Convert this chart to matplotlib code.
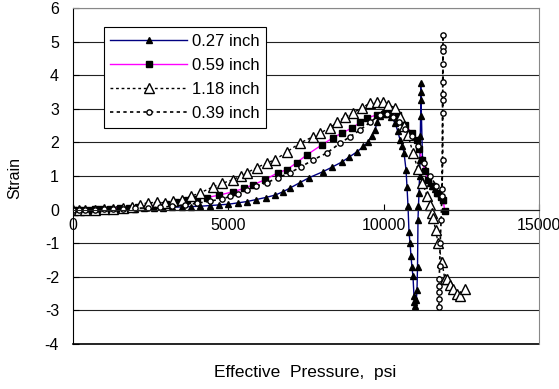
import matplotlib
matplotlib.use("Agg")
import matplotlib.pyplot as plt

plt.rcParams["font.family"] = ["Liberation Sans", "DejaVu Sans"]
plt.rcParams["axes.unicode_minus"] = False

# 0.27 inch - filled triangles, navy line
x027 = [0, 100, 200, 350, 500, 700, 900, 1100, 1400, 1700, 2000, 2300, 2600, 2900,
        3200, 3500, 3800, 4100, 4400, 4700, 5000, 5300, 5600, 5900, 6200, 6500, 6760,
        7000, 7300, 7600, 8050, 8350, 8660, 8900, 9140, 9350, 9500, 9620, 9720, 9790,
        9880, 9980, 10100, 10250, 10365, 10450, 10526, 10600, 10655, 10719, 10751,
        10784, 10816, 10850, 10880, 10910, 10944, 10977, 10990, 11010, 11050, 11073,
        11090, 11105, 11120, 11138, 11155, 11170, 11180, 11190, 11200, 11195, 11190,
        11250, 11320, 11400, 11480, 11560, 11650, 11750, 11850, 11900]
y027 = [0, 0, 0, 0, 0, 0, 0.01, 0.01, 0.02, 0.03, 0.03, 0.04, 0.05, 0.06,
        0.07, 0.08, 0.09, 0.1, 0.12, 0.14, 0.16, 0.2, 0.24, 0.3, 0.36, 0.43, 0.53,
        0.65, 0.8, 0.95, 1.13, 1.27, 1.42, 1.57, 1.72, 1.88, 2.02, 2.2, 2.37, 2.6,
        2.8, 2.9, 2.85, 2.75, 2.58, 2.35, 2.08, 1.9, 1.69, 1.19, 0.68,
        0.1, -0.68, -1.0, -1.39, -1.7, -1.99, -2.58, -2.75, -2.88, -2.7, -2.4,
        -1.7, -0.3, 0.1, 0.5, 1.0, 1.48, 2.2, 2.8, 3.26, 3.5, 3.77,
        1.5, 1.2, 0.95, 0.8, 0.7, 0.6, 0.5, 0.4, 0.3]

# 0.59 inch - filled squares, magenta line
x059 = [0, 150, 300, 500, 700, 900, 1200, 1500, 1800, 2100, 2400, 2700, 3000, 3300,
        3670, 4000, 4310, 4700, 5150, 5500, 5800, 6180, 6600, 6890, 7200, 7530, 8015,
        8370, 8660, 8980, 9250, 9460, 9790, 10000, 10200, 10460, 10690, 10910, 11070,
        11150, 11230, 11330, 11430, 11580, 11720, 11850, 11910, 11970]
y059 = [0, 0, 0, 0, 0.01, 0.02, 0.03, 0.04, 0.06, 0.08, 0.1, 0.13, 0.17, 0.22,
        0.3, 0.33, 0.36, 0.43, 0.53, 0.63, 0.74, 0.89, 1.1, 1.19, 1.4, 1.63, 1.93,
        2.14, 2.28, 2.43, 2.6, 2.73, 2.82, 2.86, 2.88, 2.82, 2.52, 2.28, 2.08,
        1.8, 1.48, 1.15, 0.89, 0.7, 0.5, 0.38, 0.3, -0.05]

# 1.18 inch - open triangles, dotted line
x118 = [0, 200, 400, 700, 1000, 1300, 1600, 1900, 2160, 2400, 2700, 2950, 3220, 3500,
        3800, 4100, 4510, 4800, 5150, 5400, 5600, 5920, 6240, 6500, 6890, 7300, 7730,
        7950, 8270, 8500, 8760, 9010, 9300, 9560, 9790, 9980, 10140, 10365, 10526,
        10650, 10780, 10945, 11100, 11250, 11400, 11480, 11560, 11590, 11670, 11750,
        11880, 11970, 12040, 12150, 12230, 12350, 12460, 12620]
y118 = [0, 0, 0, 0, 0.02, 0.03, 0.05, 0.08, 0.15, 0.2, 0.22, 0.2, 0.25, 0.3,
        0.4, 0.5, 0.68, 0.78, 0.89, 1.0, 1.1, 1.25, 1.39, 1.48, 1.72, 1.98, 2.17,
        2.28, 2.43, 2.6, 2.76, 2.88, 3.03, 3.17, 3.2, 3.2, 3.12, 3.03, 2.76,
        2.5, 2.22, 1.69, 1.2, 0.8, 0.39, 0.15, -0.1, -0.24, -0.6, -0.98,
        -1.57, -2.08, -2.08, -2.25, -2.37, -2.5, -2.58, -2.37]

# 0.39 inch - open circles, dotted line
x039 = [0, 200, 400, 700, 1000, 1300, 1600, 2000, 2400, 2800, 3200, 3600, 4000, 4400,
        4800, 5050, 5300, 5600, 5900, 6240, 6600, 6990, 7350, 7730, 8180, 8600, 8920,
        9240, 9560, 9880, 10100, 10300, 10500, 10700, 10900, 11100, 11300, 11500,
        11700, 11880, 11910, 11910, 11910, 11910, 11910, 11900, 11900, 11900, 11900,
        11880, 11850, 11820, 11800, 11790, 11780, 11780, 11780, 11780]
y039 = [0, 0, 0, 0, 0.01, 0.02, 0.03, 0.04, 0.05, 0.07, 0.1, 0.14, 0.19, 0.25,
        0.32, 0.39, 0.45, 0.59, 0.7, 0.8, 0.95, 1.1, 1.28, 1.48, 1.69, 1.98, 2.17,
        2.37, 2.6, 2.82, 2.85, 2.75, 2.6, 2.4, 2.2, 1.9, 1.4, 1.0,
        0.7, 0.4, 5.19, 4.84, 4.72, 4.33, 3.8, 3.44, 3.26, 2.88, 1.48,
        0.6, -0.3, -0.98, -1.69, -2.08, -2.28, -2.46, -2.67, -2.91]

labels = ["0.27 inch", "0.59 inch", "1.18 inch", "0.39 inch"]

fig = plt.figure(figsize=(5.59, 3.89), dpi=100)
ax = fig.add_axes([0.1306, 0.1157, 0.8336, 0.8637])

ax.plot(x027, y027, "-", color="#000080", lw=1, marker="^", ms=5,
        mfc="black", mec="black", label=labels[0])
ax.plot(x059, y059, "-", color="#ff00ff", lw=1, marker="s", ms=4.5,
        mfc="black", mec="black", label=labels[1])
ax.plot(x118, y118, color="black", lw=1, ls=(0, (2, 2)), marker="^", ms=6.5,
        mfc="white", mec="black", mew=1, label=labels[2])
ax.plot(x039, y039, color="black", lw=1.2, ls=(0, (2, 2)), marker="o", ms=3.8,
        mfc="white", mec="black", mew=1, label=labels[3])

ax.set_xlim(0, 15000)
ax.set_ylim(-4, 6)
ax.set_xticks([0, 5000, 10000, 15000])
ax.set_yticks(range(-4, 7))
ax.yaxis.grid(True, color="#222222", lw=0.8)
ax.set_axisbelow(True)

ax.spines["bottom"].set_position(("data", 0))
ax.spines["bottom"].set_color("#222222")
ax.spines["top"].set_color("#888888")
ax.spines["right"].set_color("#888888")
ax.spines["left"].set_color("black")
ax.axhline(-4, color="black", lw=1.2, clip_on=False)

ax.tick_params(axis="x", direction="in", length=4, pad=6, labelsize=11.5)
ax.tick_params(axis="y", direction="in", length=4, pad=10, labelsize=11.5)

fig.text(305 / 559, 1 - 372 / 389, "Effective  Pressure,  psi", ha="center",
         va="center", fontsize=12.5)
fig.text(15 / 559, 1 - 178 / 389, "Strain", rotation=90, ha="center",
         va="center", fontsize=11.5)

leg = ax.legend(loc="upper left", bbox_to_anchor=(0.066, 0.943), fontsize=12,
                handlelength=4.6, labelspacing=0.55, borderpad=0.4,
                handletextpad=0.3, fancybox=False, framealpha=1,
                edgecolor="black", borderaxespad=0)
leg.get_frame().set_linewidth(0.8)

fig.savefig("out.png", dpi=100)
